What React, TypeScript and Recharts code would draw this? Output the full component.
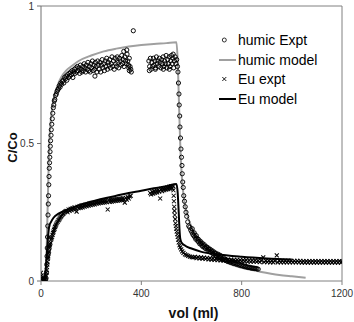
import {
  ComposedChart,
  Line,
  Scatter,
  XAxis,
  YAxis,
  ReferenceLine,
} from "recharts";

// humic Expt (circles) in segments
const humicRise = [
  [0, 0], [4, 0.005], [8, 0], [12, 0.01], [15, 0], [18, 0.005], [20, 0.01], [22, 0.03],
  [23, 0.06], [24, 0.09], [25, 0.12], [26, 0.16], [27, 0.2], [28, 0.24], [29, 0.28],
  [30, 0.31], [31, 0.35], [32, 0.38], [33, 0.41], [34, 0.43], [35, 0.45], [36, 0.47],
  [37, 0.49], [38, 0.51], [40, 0.53], [41, 0.55], [43, 0.57], [45, 0.59], [47, 0.61],
  [49, 0.63], [51, 0.64], [53, 0.655], [55, 0.66], [58, 0.675], [61, 0.68], [64, 0.69],
  [67, 0.695], [70, 0.7], [73, 0.71], [76, 0.705], [79, 0.72], [82, 0.715], [85, 0.725],
  [88, 0.73], [91, 0.72], [94, 0.74], [97, 0.735], [100, 0.745], [103, 0.73], [106, 0.75],
  [109, 0.74], [112, 0.755], [115, 0.745], [118, 0.76], [121, 0.75], [124, 0.765],
  [127, 0.74], [130, 0.76],
];
const humicPlateau1 = [
  [133, 0.77], [136, 0.755], [139, 0.775], [142, 0.76], [145, 0.78], [148, 0.765],
  [151, 0.775], [154, 0.755], [157, 0.785], [160, 0.77], [163, 0.76], [166, 0.78],
  [169, 0.765], [172, 0.79], [175, 0.775], [178, 0.76], [181, 0.785], [184, 0.77],
  [187, 0.795], [190, 0.765], [193, 0.78], [196, 0.76], [199, 0.79], [202, 0.775],
  [205, 0.8], [208, 0.765], [211, 0.785], [214, 0.77], [215, 0.745], [217, 0.795],
  [220, 0.78], [223, 0.76], [226, 0.8], [229, 0.785], [232, 0.77], [235, 0.795],
  [238, 0.76], [241, 0.785], [244, 0.805], [247, 0.775], [250, 0.79], [253, 0.765],
  [256, 0.8], [259, 0.78], [262, 0.81], [265, 0.77], [268, 0.795], [271, 0.785],
  [274, 0.805], [277, 0.775], [280, 0.79], [283, 0.815], [286, 0.78], [289, 0.8],
  [292, 0.77], [295, 0.81], [298, 0.79], [301, 0.78], [304, 0.815], [307, 0.795],
  [310, 0.775], [313, 0.81], [316, 0.8], [319, 0.785], [322, 0.82], [325, 0.79],
  [328, 0.805], [330, 0.835], [331, 0.78], [334, 0.815], [337, 0.8], [340, 0.79],
  [342, 0.84], [343, 0.825], [346, 0.8], [349, 0.785], [350, 0.775], [352, 0.81],
  [352, 0.765], [355, 0.78], [358, 0.77], [360, 0.76], [368, 0.91],
];
const humicPlateau2 = [
  [430, 0.8], [432, 0.765], [433, 0.78], [436, 0.81], [439, 0.77], [442, 0.795],
  [445, 0.78], [448, 0.81], [451, 0.785], [454, 0.8], [456, 0.77], [457, 0.775],
  [460, 0.815], [463, 0.79], [466, 0.8], [469, 0.78], [472, 0.81], [475, 0.795],
  [478, 0.775], [481, 0.805], [484, 0.79], [487, 0.815], [488, 0.77], [490, 0.78],
  [493, 0.8], [496, 0.79], [499, 0.82], [502, 0.775], [505, 0.805], [508, 0.79],
  [511, 0.815], [512, 0.77], [514, 0.78], [517, 0.8], [520, 0.82], [523, 0.79],
  [526, 0.81], [527, 0.825], [529, 0.775], [532, 0.8], [535, 0.815], [538, 0.79],
  [541, 0.805], [544, 0.78],
];
const humicDrop = [
  [546, 0.76], [548, 0.72], [550, 0.68], [551, 0.64], [553, 0.6], [554, 0.56],
  [556, 0.52], [558, 0.48], [560, 0.45], [562, 0.42], [563, 0.39], [565, 0.36],
  [567, 0.34], [569, 0.31], [572, 0.29], [575, 0.27], [578, 0.25], [581, 0.235],
  [585, 0.215], [589, 0.2],
];
const humicTail = [
  [593, 0.195], [597, 0.185], [601, 0.178], [603, 0.19], [605, 0.17], [609, 0.165],
  [611, 0.175], [613, 0.16], [617, 0.152], [619, 0.165], [621, 0.155], [625, 0.145],
  [627, 0.152], [629, 0.142], [633, 0.135], [635, 0.145], [637, 0.138], [641, 0.13],
  [643, 0.138], [645, 0.125], [649, 0.128], [651, 0.132], [653, 0.12], [657, 0.118],
  [659, 0.125], [661, 0.122], [665, 0.112], [667, 0.12], [669, 0.115], [673, 0.108],
  [675, 0.115], [677, 0.104], [681, 0.108], [683, 0.11], [685, 0.1], [689, 0.097],
  [691, 0.105], [693, 0.1], [697, 0.093], [699, 0.1], [701, 0.09], [705, 0.094],
  [707, 0.097], [709, 0.087], [713, 0.084], [715, 0.093], [717, 0.088], [721, 0.081],
  [725, 0.079], [729, 0.083], [733, 0.076], [737, 0.078], [741, 0.073], [745, 0.071],
  [749, 0.075], [753, 0.069], [757, 0.068], [761, 0.071], [765, 0.065], [769, 0.064],
  [773, 0.067], [777, 0.062], [781, 0.061], [785, 0.063], [789, 0.058], [793, 0.06],
  [797, 0.056], [801, 0.057], [805, 0.054], [809, 0.055], [813, 0.052], [817, 0.053],
  [821, 0.05], [825, 0.051], [829, 0.049], [833, 0.05], [837, 0.047], [841, 0.048],
  [845, 0.046], [849, 0.047], [853, 0.045], [857, 0.046], [861, 0.044], [866, 0.043],
];

// Eu expt (crosses)
const euRise = [
  [0, 0.03], [3, 0.02], [6, 0.01], [9, 0.005], [12, 0.01], [15, 0.005], [18, 0.015],
  [20, 0.02], [22, 0.03], [23, 0.04], [24, 0.05], [25, 0.06], [26, 0.07], [27, 0.08],
  [28, 0.085], [29, 0.09], [30, 0.1], [31, 0.105], [32, 0.11], [33, 0.12], [34, 0.125],
  [35, 0.13], [36, 0.135], [38, 0.14], [40, 0.15], [42, 0.155], [44, 0.16], [46, 0.168],
  [48, 0.175], [50, 0.18], [52, 0.186], [54, 0.19], [56, 0.196], [58, 0.2], [60, 0.205],
  [63, 0.21], [66, 0.215], [69, 0.22], [72, 0.223], [75, 0.228], [78, 0.232], [81, 0.236],
  [84, 0.24], [87, 0.243], [90, 0.246], [94, 0.25], [98, 0.253],
];
const euPlateau1 = [
  [102, 0.255], [106, 0.25], [110, 0.26], [114, 0.255], [118, 0.262], [122, 0.258],
  [126, 0.265], [130, 0.26], [134, 0.268], [138, 0.262], [142, 0.252], [146, 0.27],
  [150, 0.265], [154, 0.272], [158, 0.266], [162, 0.275], [166, 0.268], [170, 0.276],
  [174, 0.27], [178, 0.278], [182, 0.272], [186, 0.28], [190, 0.274], [194, 0.282],
  [198, 0.276], [202, 0.284], [206, 0.278], [210, 0.285], [214, 0.279], [218, 0.287],
  [222, 0.281], [226, 0.288], [230, 0.282], [234, 0.29], [238, 0.284], [242, 0.291],
  [246, 0.285], [250, 0.292], [254, 0.286], [258, 0.293], [262, 0.287], [266, 0.26],
  [270, 0.294], [274, 0.288], [278, 0.295], [282, 0.289], [286, 0.296], [290, 0.29],
  [294, 0.297], [298, 0.291], [302, 0.298], [306, 0.292], [310, 0.299], [314, 0.293],
  [318, 0.3], [322, 0.294], [326, 0.301], [330, 0.295], [334, 0.285], [338, 0.302],
  [342, 0.296], [346, 0.305], [350, 0.3], [354, 0.308], [358, 0.31],
];
const euPlateau2 = [
  [435, 0.32], [439, 0.315], [443, 0.325], [447, 0.318], [451, 0.328], [455, 0.32],
  [459, 0.33], [463, 0.322], [467, 0.332], [471, 0.325], [475, 0.3], [479, 0.335],
  [483, 0.327], [487, 0.337], [491, 0.33], [495, 0.338], [499, 0.332], [503, 0.34],
  [507, 0.334], [511, 0.342], [515, 0.336], [519, 0.344], [523, 0.338], [527, 0.345],
];
const euDrop = [
  [528, 0.33], [529, 0.31], [530, 0.29], [531, 0.27], [532, 0.255], [533, 0.24],
  [535, 0.225], [536, 0.21], [538, 0.2], [539, 0.19], [541, 0.18], [543, 0.17],
  [545, 0.16], [547, 0.15], [549, 0.14], [552, 0.13], [555, 0.122], [559, 0.115],
  [563, 0.108], [568, 0.102], [574, 0.097], [580, 0.094], [587, 0.091], [594, 0.089],
  [601, 0.087], [608, 0.086],
];
const euTail = [
  [614, 0.088], [620, 0.083], [626, 0.087], [632, 0.082], [638, 0.086], [644, 0.081],
  [650, 0.085], [656, 0.08], [662, 0.084], [668, 0.079], [674, 0.083], [680, 0.078],
  [686, 0.082], [692, 0.077], [698, 0.081], [704, 0.076], [710, 0.08], [716, 0.075],
  [722, 0.079], [728, 0.074], [734, 0.079], [740, 0.074], [746, 0.078], [752, 0.073],
  [758, 0.078], [764, 0.073], [770, 0.077], [776, 0.072], [782, 0.077], [788, 0.072],
  [794, 0.076], [800, 0.071], [806, 0.076], [812, 0.071], [818, 0.076], [824, 0.07],
  [830, 0.075], [836, 0.07], [842, 0.075], [848, 0.07], [854, 0.075], [860, 0.07],
  [866, 0.074], [872, 0.069], [878, 0.074], [886, 0.086], [890, 0.069], [896, 0.074],
  [902, 0.069], [908, 0.074], [914, 0.068], [920, 0.073], [926, 0.068], [932, 0.073],
  [940, 0.093], [944, 0.068], [950, 0.073], [956, 0.068], [962, 0.073], [968, 0.068],
  [974, 0.073], [980, 0.068], [986, 0.073], [992, 0.068], [998, 0.073], [1004, 0.068],
  [1010, 0.073], [1016, 0.068], [1022, 0.073], [1028, 0.068], [1034, 0.073], [1040, 0.067],
  [1046, 0.072], [1052, 0.067], [1058, 0.072], [1064, 0.067], [1070, 0.072], [1076, 0.067],
  [1082, 0.072], [1088, 0.067], [1094, 0.072], [1100, 0.067], [1106, 0.072], [1112, 0.067],
  [1118, 0.072], [1124, 0.067], [1130, 0.072], [1136, 0.067], [1142, 0.072], [1148, 0.067],
  [1154, 0.072], [1160, 0.067], [1166, 0.072], [1172, 0.067], [1178, 0.072], [1184, 0.067],
  [1190, 0.072], [1196, 0.067], [1200, 0.071],
];

// model curves
const humicModel = [
  [18, 0], [22, 0.1], [26, 0.25], [30, 0.4], [33, 0.5], [37, 0.56], [42, 0.61], [50, 0.655],
  [60, 0.695], [70, 0.72], [80, 0.74], [100, 0.765], [120, 0.78], [150, 0.8], [200, 0.82],
  [250, 0.835], [300, 0.845], [350, 0.853], [400, 0.858], [450, 0.862], [500, 0.865],
  [540, 0.868], [545, 0.8], [550, 0.65], [555, 0.5], [560, 0.4], [566, 0.33], [575, 0.27],
  [590, 0.22], [610, 0.18], [630, 0.155], [650, 0.13], [675, 0.108], [700, 0.09],
  [750, 0.062], [800, 0.048], [873, 0.034], [950, 0.022], [1000, 0.017], [1055, 0.012],
];
const euModel = [
  [15, 0], [22, 0.08], [28, 0.16], [33, 0.2], [40, 0.215], [50, 0.23], [70, 0.245],
  [100, 0.258], [150, 0.275], [200, 0.288], [250, 0.3], [300, 0.31], [350, 0.32],
  [400, 0.328], [450, 0.337], [500, 0.345], [540, 0.353], [545, 0.32], [549, 0.25],
  [552, 0.19], [555, 0.155], [560, 0.14], [575, 0.128], [600, 0.118], [640, 0.106],
  [700, 0.097], [800, 0.088], [900, 0.082], [1000, 0.078],
];

const xTicks = [0, 400, 800, 1200];
const yTicks = [0, 0.5, 1];

const toPts = (arr: number[][]) => arr.map(([x, y]) => ({ x, y }));

const humicExpt = toPts([
  ...humicRise,
  ...humicPlateau1,
  ...humicPlateau2,
  ...humicDrop,
  ...humicTail,
]);
const euExpt = toPts([...euRise, ...euPlateau1, ...euPlateau2, ...euDrop, ...euTail]);

const FONT = "Arial, 'Liberation Sans', sans-serif";

const Circ = (p: any) => (
  <circle cx={p.cx} cy={p.cy} r={2.1} fill="none" stroke="#000" strokeWidth={0.95} />
);
const Cross = (p: any) => (
  <path
    d={`M${p.cx - 2},${p.cy - 2}L${p.cx + 2},${p.cy + 2}M${p.cx - 2},${p.cy + 2}L${p.cx + 2},${p.cy - 2}`}
    stroke="#000"
    strokeWidth={1.05}
  />
);

function LegendBox() {
  const rows = [
    { name: "humic Expt", kind: "circle" },
    { name: "humic model", kind: "gray" },
    { name: "Eu expt", kind: "cross" },
    { name: "Eu model", kind: "black" },
  ];
  return (
    <div
      style={{
        position: "absolute",
        left: 216,
        top: 30,
        fontFamily: FONT,
        fontSize: 14,
        color: "#000",
      }}
    >
      {rows.map((r) => (
        <div key={r.name} style={{ display: "flex", alignItems: "center", height: 19.7 }}>
          <svg width={22} height={12} style={{ display: "block" }}>
            {r.kind === "circle" && (
              <circle cx={8.3} cy={6} r={2} fill="none" stroke="#000" strokeWidth={0.8} />
            )}
            {r.kind === "cross" && (
              <path d="M6.3,4L10.3,8M6.3,8L10.3,4" stroke="#000" strokeWidth={0.9} />
            )}
            {r.kind === "gray" && (
              <line x1={3} y1={6} x2={20} y2={6} stroke="#a0a0a0" strokeWidth={2} />
            )}
            {r.kind === "black" && (
              <line x1={3} y1={6} x2={20} y2={6} stroke="#000" strokeWidth={2} />
            )}
          </svg>
          <span style={{ whiteSpace: "nowrap" }}>{r.name}</span>
        </div>
      ))}
    </div>
  );
}

export default function App() {
  return (
    <div style={{ position: "absolute", left: 0, top: 0, width: 354, height: 322, background: "#fff" }}>
      <ComposedChart
        width={354}
        height={322}
        margin={{ top: 6, right: 12, bottom: 0, left: 0 }}
      >
        <XAxis
          type="number"
          dataKey="x"
          domain={[0, 1200]}
          ticks={xTicks}
          allowDataOverflow
          height={41}
          stroke="#808080"
          tickSize={4}
          tickMargin={5}
          tick={{ fill: "#333", fontSize: 10, fontFamily: FONT }}
          label={{
            value: "vol (ml)",
            position: "insideBottom",
            offset: 4,
            dx: 2,
            style: { fontFamily: FONT, fontSize: 14, fontWeight: "bold", fill: "#111" },
          }}
        />
        <YAxis
          type="number"
          dataKey="y"
          domain={[0, 1]}
          ticks={yTicks}
          allowDataOverflow
          width={41}
          stroke="#707070"
          tickSize={4}
          tickMargin={3}
          tick={{ fill: "#333", fontSize: 10, fontFamily: FONT }}
          label={{
            value: "C/Co",
            angle: -90,
            position: "insideLeft",
            offset: 12,
            dy: 4,
            style: {
              textAnchor: "middle",
              fontFamily: FONT,
              fontSize: 13,
              fontWeight: "bold",
              fill: "#111",
            },
          }}
        />
        <ReferenceLine y={1} stroke="#808080" />
        <ReferenceLine x={1200} stroke="#808080" />
        <Scatter
          name="humic Expt"
          data={humicExpt}
          shape={Circ}
          isAnimationActive={false}
        />
        <Line
          name="humic model"
          data={toPts(humicModel)}
          dataKey="y"
          type="monotone"
          stroke="#a0a0a0"
          strokeWidth={2}
          dot={false}
          activeDot={false}
          isAnimationActive={false}
        />
        <Scatter
          name="Eu expt"
          data={euExpt}
          shape={Cross}
          isAnimationActive={false}
        />
        <Line
          name="Eu model"
          data={toPts(euModel)}
          dataKey="y"
          type="monotone"
          stroke="#000"
          strokeWidth={2}
          dot={false}
          activeDot={false}
          isAnimationActive={false}
        />
      </ComposedChart>
      <LegendBox />
    </div>
  );
}
